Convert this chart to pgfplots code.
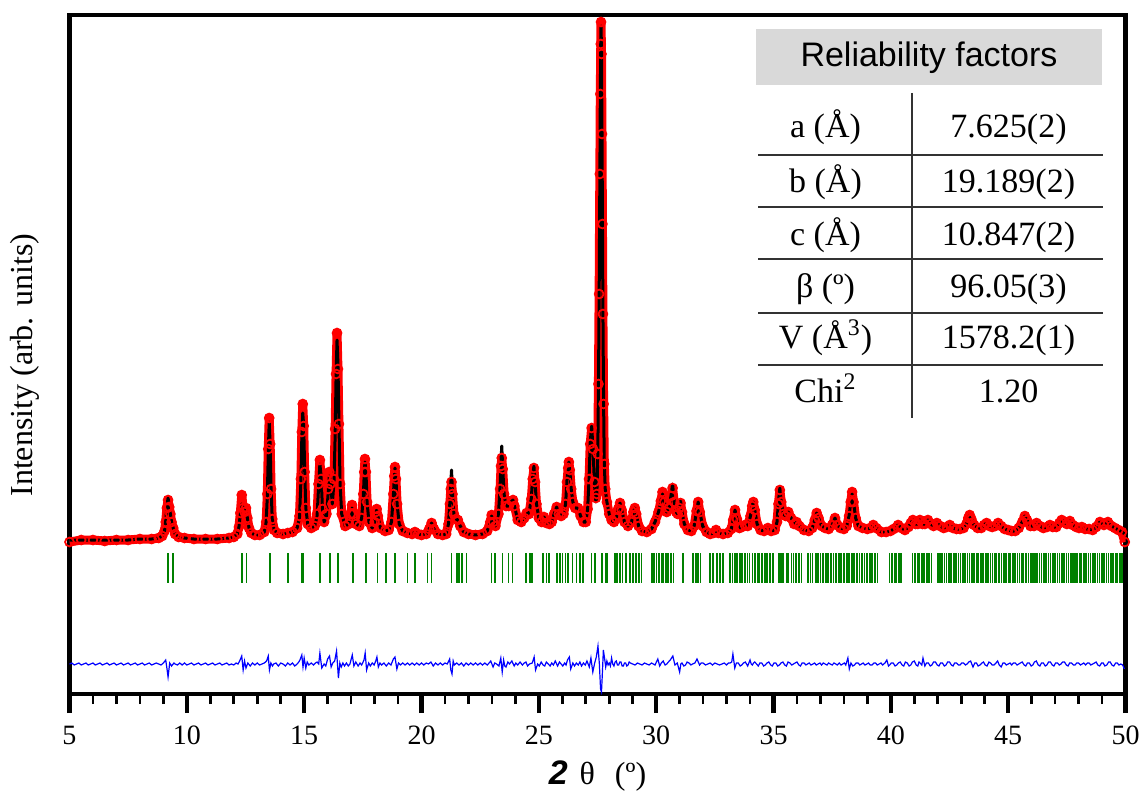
\documentclass[border=0pt]{standalone}
\usepackage{fontspec}
\setmainfont{Liberation Serif}
\setsansfont{Liberation Sans}
\usepackage{pgfplots}
\usepackage{pgfplotstable}
\pgfplotsset{compat=1.18}
\definecolor{obsred}{RGB}{255,0,0}
\definecolor{braggreen}{RGB}{0,128,0}
\definecolor{diffblue}{RGB}{0,0,255}
\definecolor{hdrgray}{RGB}{217,217,217}

\pgfplotstableread{
x obs calc
5.00 152 154
5.50 154 154
6.00 154 154
6.50 153 154
7.00 154 154
7.50 154 154
8.00 155 155
8.50 155 155
8.80 156 156
8.95 158 158
9.05 163 163
9.10 172 173
9.15 186 188
9.20 194 196
9.25 187 188
9.30 180 180
9.35 172 172
9.42 166 166
9.50 160 160
9.65 157 157
9.90 156 156
10.30 155 155
10.80 155 155
11.30 155 155
11.80 156 156
12.00 157 157
12.15 160 160
12.22 167 167
12.28 181 180
12.34 199 190
12.40 186 186
12.46 182 184
12.52 186 183
12.58 176 176
12.65 166 166
12.75 161 161
12.90 159 159
13.10 159 159
13.30 162 162
13.38 172 172
13.43 200 198
13.47 245 240
13.51 276 272
13.55 250 250
13.59 205 205
13.64 175 175
13.72 164 164
13.85 161 161
14.10 160 160
14.30 161 161
14.50 162 162
14.70 166 166
14.80 178 176
14.86 215 212
14.90 262 256
14.94 290 281
14.98 268 268
15.02 222 226
15.07 186 186
15.15 170 170
15.30 166 166
15.45 168 168
15.55 180 178
15.61 210 205
15.67 234 230
15.72 215 218
15.78 185 185
15.85 172 172
15.95 180 178
16.02 205 200
16.07 222 218
16.12 210 212
16.20 190 190
16.27 215 212
16.32 265 258
16.36 320 318
16.40 361 354
16.44 325 330
16.48 270 275
16.53 210 210
16.60 180 180
16.75 168 168
16.90 170 170
16.98 180 178
17.04 189 186
17.10 180 180
17.20 170 170
17.35 168 168
17.45 176 176
17.52 200 198
17.56 222 220
17.59 235 232
17.63 222 224
17.68 192 192
17.76 172 172
17.90 166 166
18.00 172 172
18.05 182 180
18.09 185 184
18.14 178 178
18.25 166 166
18.45 163 163
18.60 164 164
18.72 172 172
18.80 200 198
18.84 218 216
18.87 227 226
18.91 215 216
18.96 190 190
19.05 170 170
19.20 163 163
19.40 161 161
19.60 160 160
19.72 162 162
19.85 160 160
20.00 159 159
20.20 160 160
20.33 165 165
20.43 171 171
20.53 165 165
20.70 160 160
20.90 159 159
21.05 160 160
21.15 170 170
21.21 190 192
21.25 205 212
21.28 212 224
21.32 200 202
21.38 180 180
21.47 175 175
21.55 174 174
21.65 168 168
21.80 162 162
22.00 160 160
22.30 159 159
22.60 160 160
22.80 163 163
22.93 172 172
22.99 179 178
23.06 172 172
23.15 168 168
23.28 180 180
23.35 205 208
23.39 228 234
23.42 236 248
23.46 225 226
23.52 200 200
23.60 188 188
23.72 188 188
23.85 193 193
23.90 194 194
23.96 188 188
24.10 174 174
24.25 172 172
24.38 176 176
24.48 181 181
24.58 180 180
24.68 195 196
24.74 215 218
24.79 226 228
24.84 212 212
24.90 190 190
25.00 176 176
25.12 172 172
25.22 177 177
25.32 171 171
25.45 170 170
25.55 172 172
25.65 180 180
25.76 187 187
25.85 180 180
25.95 178 178
26.05 180 180
26.14 190 190
26.20 212 214
26.25 226 228
26.28 232 232
26.32 224 224
26.38 205 205
26.45 192 192
26.55 186 186
26.67 186 186
26.78 178 178
26.90 172 172
27.00 172 172
27.08 185 185
27.14 215 215
27.19 250 252
27.25 266 268
27.31 245 245
27.37 212 210
27.43 196 192
27.47 200 198
27.51 240 235
27.54 310 305
27.57 400 395
27.60 520 515
27.62 600 598
27.64 650 655
27.65 672 668
27.67 640 645
27.69 560 570
27.71 470 478
27.73 380 385
27.76 290 290
27.79 230 230
27.83 205 205
27.90 192 192
28.00 180 180
28.10 174 174
28.20 172 172
28.30 176 176
28.38 185 185
28.46 191 191
28.53 184 184
28.65 172 172
28.80 168 168
28.95 172 172
29.03 182 182
29.09 186 186
29.15 180 180
29.25 168 168
29.40 163 163
29.60 162 162
29.80 165 165
29.95 172 172
30.10 182 182
30.20 193 193
30.27 202 200
30.35 192 192
30.45 182 182
30.55 186 186
30.63 198 198
30.70 206 210
30.77 192 192
30.85 182 182
30.92 180 180
30.98 186 186
31.04 191 193
31.10 182 182
31.20 170 170
31.35 164 164
31.50 163 163
31.62 168 168
31.72 183 183
31.79 192 192
31.86 182 182
31.98 168 168
32.15 162 162
32.30 160 160
32.45 161 161
32.55 164 164
32.65 161 161
32.85 160 160
33.05 161 161
33.20 165 165
33.28 174 174
33.36 184 184
33.44 175 175
33.55 166 166
33.65 167 167
33.78 169 169
33.90 168 168
34.02 178 178
34.09 188 188
34.14 192 192
34.20 184 184
34.30 170 170
34.45 164 164
34.60 163 163
34.76 166 166
34.90 163 163
35.05 164 164
35.15 172 172
35.21 190 192
35.27 204 206
35.33 192 192
35.42 180 180
35.52 178 178
35.63 182 182
35.75 176 176
35.88 170 170
35.98 172 172
36.10 168 168
36.30 164 164
36.50 163 163
36.65 166 166
36.76 174 174
36.84 181 181
36.92 176 176
37.05 168 168
37.20 166 166
37.35 165 165
37.50 169 169
37.62 176 176
37.72 169 169
37.85 166 166
38.00 165 165
38.12 168 168
38.22 178 178
38.29 192 192
38.35 202 200
38.41 192 192
38.50 176 176
38.62 168 168
38.80 166 166
39.00 165 165
39.15 166 166
39.25 169 169
39.38 166 166
39.60 162 162
39.80 162 162
39.98 163 163
40.12 165 165
40.31 169 169
40.45 166 166
40.60 164 164
40.75 167 167
40.85 171 171
40.94 174 174
41.05 170 170
41.15 170 170
41.24 174 174
41.35 170 170
41.45 170 170
41.58 174 174
41.70 170 170
41.82 168 168
41.96 171 171
42.10 168 168
42.25 166 166
42.38 167 167
42.51 169 169
42.65 166 166
42.80 165 165
42.95 165 165
43.10 166 166
43.22 170 170
43.30 176 176
43.36 179 179
43.43 175 175
43.55 169 169
43.70 166 166
43.85 166 166
43.97 169 169
44.08 171 171
44.20 168 168
44.32 167 167
44.45 168 168
44.57 171 171
44.70 168 168
44.85 165 165
45.00 164 164
45.15 163 163
45.30 163 163
45.45 166 166
45.60 172 172
45.71 178 178
45.80 174 174
45.95 168 168
46.10 168 168
46.21 171 171
46.35 168 168
46.50 166 166
46.65 167 167
46.78 169 169
46.90 167 167
47.05 167 167
47.18 171 171
47.28 174 174
47.38 172 172
47.50 170 170
47.63 173 173
47.75 169 169
47.90 167 167
48.02 166 166
48.14 167 167
48.28 165 165
48.45 165 165
48.60 164 164
48.75 167 167
48.91 172 172
49.08 169 169
49.25 172 172
49.40 168 168
49.55 166 166
49.70 164 164
49.85 162 162
49.97 152 160
}\profile

\pgfplotstableread{
x d
5.0 30
5.1 31
5.2 29
5.3 30
5.4 31
5.5 29
5.6 30
5.7 31
5.8 29
5.9 30
6.0 31
6.1 29
6.2 30
6.3 31
6.4 29
6.5 30
6.6 31
6.7 29
6.8 30
6.9 31
7.0 29
7.1 30
7.2 31
7.3 29
7.4 30
7.5 31
7.6 29
7.7 30
7.8 31
7.9 29
8.0 30
8.1 31
8.2 29
8.3 30
8.4 31
8.5 29
8.6 30
8.7 31
8.8 30
8.9 29
9.0 31
9.1 34
9.15 26
9.2 17
9.27 31
9.35 28
9.45 31
9.5 30
9.6 29
9.7 31
9.8 29
9.9 31
10.0 29
10.1 30
10.2 31
10.3 29
10.4 30
10.5 31
10.6 29
10.7 30
10.8 31
10.9 29
11.0 30
11.1 31
11.2 29
11.3 30
11.4 31
11.5 29
11.6 30
11.7 31
11.8 29
11.9 30
12.0 29
12.1 31
12.18 30
12.25 33
12.34 38
12.4 24
12.46 33
12.52 26
12.6 31
12.7 28
12.8 31
12.9 29
13.0 31
13.1 29
13.2 30
13.3 31
13.4 33
13.47 38
13.52 24
13.58 31
13.65 28
13.7 30
13.8 31
13.9 28
14.0 31
14.1 30
14.2 28
14.3 31
14.4 29
14.5 31
14.6 28
14.7 30
14.77 32
14.82 34
14.9 39
14.95 27
15.0 36
15.07 26
15.13 32
15.2 29
15.3 31
15.4 29
15.48 31
15.55 32
15.62 30
15.67 41
15.75 26
15.85 30
15.92 28
16.0 35
16.08 38
16.15 27
16.22 31
16.3 33
16.38 43
16.46 16
16.52 31
16.58 27
16.65 31
16.72 28
16.8 31
16.88 28
16.95 30
17.05 39
17.12 28
17.2 32
17.3 28
17.38 31
17.45 29
17.55 34
17.6 41
17.66 24
17.75 31
17.82 28
17.9 31
17.98 29
18.05 33
18.1 37
18.16 27
18.23 31
18.3 29
18.4 31
18.5 28
18.6 31
18.7 29
18.8 35
18.87 37
18.95 25
19.02 31
19.1 29
19.2 31
19.3 29
19.4 31
19.5 29
19.6 31
19.7 29
19.8 31
19.9 29
20.0 31
20.1 29
20.2 31
20.3 30
20.4 32
20.5 28
20.6 31
20.7 29
20.8 31
20.9 29
21.0 31
21.1 30
21.2 35
21.25 24
21.3 20
21.35 33
21.4 29
21.5 31
21.6 29
21.7 31
21.8 28
21.9 31
22.0 29
22.1 31
22.2 29
22.3 31
22.4 29
22.5 31
22.6 29
22.7 31
22.8 29
22.88 31
22.95 33
23.05 27
23.12 31
23.2 30
23.3 28
23.38 36
23.44 22
23.5 34
23.55 28
23.6 27
23.68 32
23.75 30
23.85 33
23.95 28
24.02 31
24.1 29
24.2 32
24.3 29
24.38 31
24.45 32
24.52 28
24.6 30
24.72 31
24.8 37
24.86 24
24.95 30
25.02 28
25.1 32
25.18 29
25.25 28
25.32 32
25.4 30
25.48 28
25.55 31
25.62 29
25.7 33
25.8 28
25.88 32
25.95 30
26.02 28
26.1 31
26.16 29
26.22 34
26.3 37
26.36 25
26.45 31
26.52 28
26.6 31
26.68 29
26.75 32
26.82 28
26.9 31
26.98 29
27.05 33
27.15 27
27.22 36
27.3 22
27.38 31
27.45 37
27.52 48
27.58 30
27.63 5
27.67 2
27.71 22
27.75 44
27.8 36
27.85 27
27.9 33
27.95 29
28.0 31
28.05 28
28.1 36
28.15 30
28.2 28
28.25 32
28.3 33
28.35 29
28.4 29
28.45 32
28.5 32
28.55 28
28.6 28
28.65 31
28.7 31
28.75 28
28.8 29
28.85 32
28.9 31
29.0 30
29.1 29
29.2 31
29.3 30
29.4 29
29.5 31
29.6 30
29.7 29
29.8 31
29.88 30
29.95 29
30.07 35
30.15 28
30.22 31
30.3 33
30.38 29
30.45 30
30.52 32
30.6 34
30.71 38
30.8 29
30.9 31
31.0 22
31.05 30
31.1 31
31.18 28
31.25 29
31.32 32
31.4 31
31.48 29
31.55 30
31.65 31
31.74 35
31.85 29
31.92 31
32.0 31
32.1 29
32.2 30
32.3 31
32.4 29
32.5 31
32.6 30
32.7 29
32.8 30
32.9 31
33.0 29
33.08 31
33.15 31
33.22 32
33.27 40
33.35 26
33.42 31
33.5 31
33.58 28
33.65 29
33.72 31
33.8 32
33.9 28
34.0 34
34.05 30
34.1 29
34.15 31
34.2 32
34.28 30
34.35 28
34.42 31
34.5 31
34.58 28
34.65 29
34.72 31
34.8 32
34.88 29
34.95 28
35.02 31
35.1 31
35.18 28
35.25 29
35.32 31
35.4 32
35.48 29
35.55 28
35.62 32
35.7 31
35.78 29
35.85 30
35.92 31
36.0 32
36.08 29
36.15 28
36.22 31
36.3 31
36.38 29
36.45 30
36.52 31
36.6 29
36.68 30
36.75 31
36.82 29
36.9 30
36.98 31
37.05 29
37.12 31
37.2 30
37.28 29
37.35 31
37.42 30
37.5 29
37.58 31
37.65 30
37.72 29
37.8 31
37.88 29
37.95 30
38.02 31
38.08 29
38.17 36
38.23 25
38.3 31
38.38 28
38.45 29
38.52 31
38.6 31
38.68 29
38.75 30
38.82 31
38.9 29
38.98 30
39.05 31
39.12 29
39.2 29
39.28 31
39.35 31
39.42 29
39.5 30
39.58 31
39.65 29
39.75 31
39.83 34
39.9 28
39.95 29
40.02 31
40.1 31
40.18 28
40.25 29
40.32 31
40.4 32
40.48 29
40.55 28
40.62 32
40.7 31
40.78 28
40.85 29
40.92 32
41.0 33
41.08 29
41.15 28
41.2 32
41.25 31
41.32 29
41.37 36
41.45 28
41.52 31
41.6 31
41.68 28
41.75 29
41.82 32
41.9 32
41.98 29
42.05 28
42.12 31
42.2 31
42.28 28
42.35 29
42.42 32
42.5 32
42.58 29
42.65 28
42.72 31
42.8 31
42.88 29
42.95 29
43.02 31
43.1 31
43.18 29
43.25 30
43.32 32
43.4 33
43.5 27
43.58 31
43.65 31
43.72 28
43.8 29
43.88 31
43.95 32
44.02 29
44.1 28
44.18 32
44.25 31
44.32 29
44.4 29
44.48 31
44.55 33
44.62 29
44.7 27
44.78 31
44.85 31
44.92 29
45.0 30
45.08 31
45.15 29
45.22 31
45.3 31
45.38 29
45.45 30
45.52 31
45.6 32
45.68 29
45.75 28
45.82 31
45.9 31
45.98 28
46.05 29
46.12 32
46.2 33
46.28 29
46.35 28
46.42 31
46.5 31
46.58 28
46.65 29
46.72 32
46.8 32
46.88 29
46.95 28
47.02 31
47.1 31
47.18 29
47.25 30
47.32 32
47.4 32
47.48 29
47.55 28
47.62 31
47.7 31
47.78 29
47.85 29
47.92 31
48.0 31
48.08 29
48.15 30
48.22 31
48.3 29
48.38 31
48.45 31
48.52 29
48.6 30
48.68 31
48.75 32
48.82 29
48.9 28
48.98 31
49.05 31
49.12 28
49.2 29
49.28 32
49.35 32
49.42 29
49.5 28
49.58 31
49.65 31
49.72 29
49.8 30
49.88 29
49.95 25
}\difference

\pgfplotstableread{
x y
9.21 126
9.40 126
12.34 126
12.55 126
13.54 126
14.32 126
14.89 126
14.96 126
15.67 126
16.10 126
16.43 126
17.07 126
17.63 126
18.13 126
18.49 126
18.87 126
19.41 126
19.72 126
20.25 126
20.43 126
21.28 126
21.50 126
21.61 126
21.72 126
21.92 126
22.99 126
23.13 126
23.46 126
23.70 126
23.88 126
24.45 126
24.62 126
24.71 126
25.17 126
25.33 126
25.43 126
25.78 126
25.90 126
26.01 126
26.13 126
26.25 126
26.44 126
26.61 126
26.75 126
26.89 126
27.25 126
27.39 126
27.68 126
27.86 126
27.93 126
28.24 126
28.34 126
28.46 126
28.57 126
28.71 126
28.88 126
29.02 126
29.14 126
29.28 126
29.38 126
29.81 126
29.90 126
30.02 126
30.12 126
30.23 126
30.30 126
30.42 126
30.51 126
30.62 126
30.73 126
31.15 126
31.58 126
31.69 126
31.79 126
31.89 126
32.29 126
32.41 126
32.60 126
32.72 126
32.86 126
33.14 126
33.25 126
33.36 126
33.45 126
33.58 126
33.66 126
33.79 126
33.90 126
33.98 126
34.11 126
34.20 126
34.33 126
34.41 126
34.52 126
34.64 126
34.73 126
34.86 126
34.97 126
35.23 126
35.33 126
35.41 126
35.55 126
35.63 126
35.76 126
35.85 126
35.97 126
36.08 126
36.20 126
36.46 126
36.57 126
36.66 126
36.80 126
36.89 126
37.01 126
37.10 126
37.24 126
37.33 126
37.45 126
37.56 126
37.67 126
37.79 126
37.88 126
38.00 126
38.12 126
38.21 126
38.34 126
38.43 126
38.55 126
38.66 126
38.77 126
38.88 126
38.99 126
39.11 126
39.20 126
39.33 126
39.44 126
39.95 126
40.04 126
40.15 126
40.23 126
40.36 126
40.44 126
40.93 126
41.02 126
41.13 126
41.21 126
41.34 126
41.42 126
41.55 126
41.63 126
41.74 126
42.00 126
42.09 126
42.18 126
42.29 126
42.37 126
42.48 126
42.57 126
42.69 126
42.77 126
42.88 126
42.97 126
43.08 126
43.16 126
43.27 126
43.36 126
43.47 126
43.55 126
43.66 126
43.74 126
43.85 126
43.94 126
44.05 126
44.13 126
44.24 126
44.33 126
44.43 126
44.51 126
44.62 126
44.71 126
44.81 126
44.90 126
45.01 126
45.09 126
45.20 126
45.28 126
45.39 126
45.48 126
45.58 126
45.66 126
45.77 126
45.86 126
45.96 126
46.05 126
46.15 126
46.23 126
46.34 126
46.42 126
46.53 126
46.61 126
46.72 126
46.80 126
46.91 126
47.00 126
47.10 126
47.18 126
47.29 126
47.37 126
47.48 126
47.57 126
47.67 126
47.75 126
47.86 126
47.94 126
48.05 126
48.13 126
48.24 126
48.32 126
48.43 126
48.51 126
48.62 126
48.70 126
48.81 126
48.89 126
49.00 126
49.08 126
49.19 126
49.27 126
49.38 126
49.46 126
49.57 126
49.65 126
49.76 126
49.84 126
}\bragg

\begin{document}
\begin{tikzpicture}
\begin{axis}[
  at={(0,0)}, anchor=south west,
  scale only axis, width=528pt, height=339.5pt,
  xmin=5, xmax=50, ymin=0, ymax=679,
  xtick={5,10,15,20,25,30,35,40,45,50},
  xticklabels={5,10,15,20,25,30,35,40,45,50},
  minor x tick num=4,
  ytick=\empty,
  xtick align=outside,
  xtick pos=left,
  major tick length=8.5pt, minor tick length=4.5pt,
  x tick style={black, line width=1.3pt},
  major x tick style={black, line width=2.2pt},
  axis line style={line width=2.2pt},
  xticklabel style={font=\fontsize{14}{16}\selectfont, yshift=-4pt},
  xlabel={{\fontsize{17}{20}\selectfont\sffamily\bfseries\itshape 2}\hspace{6pt}{\fontsize{16}{19}\selectfont θ\hspace{10pt}(º)}},
  xlabel style={at={(axis description cs:0.5,0)}, anchor=center, yshift=-41pt},
  ylabel={\fontsize{16}{19}\selectfont Intensity (arb. units)},
  ylabel style={at={(axis description cs:-0.0421,0.4845)}, anchor=center},
]
\addplot[braggreen, only marks, mark=|, mark size=7.5pt, mark options={line width=0.8pt}] table[x=x,y=y] {\bragg};
\addplot[diffblue, line width=0.6pt] table[x=x,y=d] {\difference};
\addplot[obsred, line width=4.5pt, line join=round] table[x=x,y=obs] {\profile};
\addplot[obsred, only marks, mark=o, mark size=2.2pt, mark options={line width=0.9pt}] table[x=x,y=obs] {\profile};
\addplot[black, line width=1.5pt, line join=round] table[x=x,y=calc] {\profile};
\end{axis}
% tick marks along the bottom axis as rules (1 degree = 528/45 pt)
\foreach \t in {1,2,3,4,6,7,8,9,11,12,13,14,16,17,18,19,21,22,23,24,26,27,28,29,31,32,33,34,36,37,38,39,41,42,43,44}{
  \node[inner sep=0pt, outer sep=0pt, anchor=north] at ({\t*11.73333pt},0.5pt) {\rule{1.3pt}{5.5pt}};
}
\foreach \t in {0,5,10,15,20,25,30,35,40,45}{
  \node[inner sep=0pt, outer sep=0pt, anchor=north] at ({\t*11.73333pt},0.5pt) {\rule{2.2pt}{10pt}};
}
% Reliability table
\fill[hdrgray] (343.25pt,304.5pt) rectangle (516.25pt,332.5pt);
\node[anchor=base, inner sep=0pt, font=\sffamily\fontsize{17}{20}\selectfont] at (429.75pt,313.7pt) {Reliability factors};
\draw[line width=0.6pt, black!80] (421.25pt,300.5pt) -- (421.25pt,138pt);
\foreach \yy in {269.5,243.5,217.5,190.5,164.5}{
  \draw[line width=0.6pt, black!80] (344.25pt,\yy pt) -- (516.75pt,\yy pt);
}
\begin{scope}[every node/.style={anchor=base, inner sep=0pt, font=\fontsize{17}{20}\selectfont}]
\node at (378pt,278pt) {a (Å)};
\node at (469.5pt,278pt) {7.625(2)};
\node at (378pt,251pt) {b (Å)};
\node at (469.5pt,251pt) {19.189(2)};
\node at (378pt,224.5pt) {c (Å)};
\node at (469.5pt,224.5pt) {10.847(2)};
\node at (378pt,198.5pt) {β (º)};
\node at (469.5pt,198.5pt) {96.05(3)};
\node at (378pt,173pt) {V (Å\textsuperscript{3})};
\node at (469.5pt,173pt) {1578.2(1)};
\node at (378pt,146pt) {Chi\textsuperscript{2}};
\node at (469.5pt,146pt) {1.20};
\end{scope}
\pgfresetboundingbox
\path[use as bounding box] (-34.75pt,-50pt) rectangle (535.25pt,347pt);
\end{tikzpicture}
\end{document}
